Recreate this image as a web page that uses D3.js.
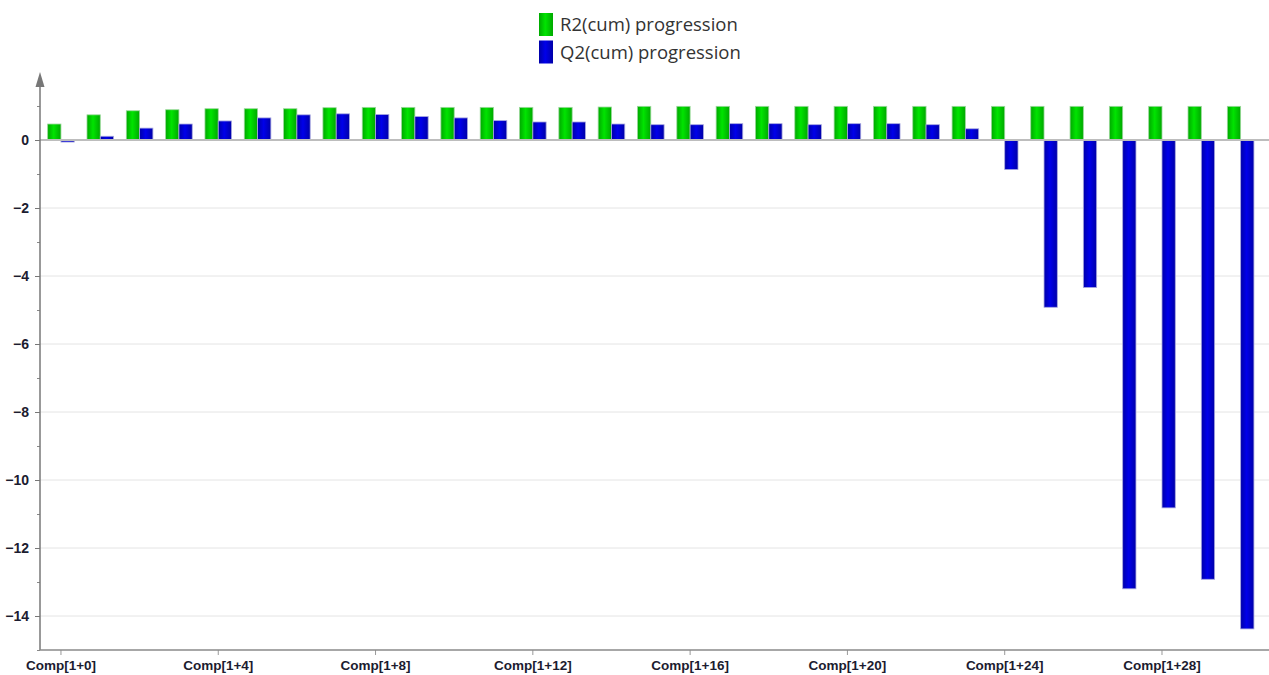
<!DOCTYPE html>
<html>
<head>
<meta charset="utf-8">
<script src="https://cdn.jsdelivr.net/npm/d3@7"></script>
<style>
  html, body { margin: 0; padding: 0; background: #fff; }
  svg { display: block; }
</style>
</head>
<body>
<svg id="chart" width="1269" height="675"></svg>
<script>
// ---- Data ----
const categories = d3.range(0, 31).map(i => `Comp[1+${i}]`);
const r2cum = [0.47, 0.74, 0.86, 0.89, 0.92, 0.92, 0.92, 0.95, 0.96, 0.96, 0.96, 0.96, 0.96, 0.96, 0.97, 0.99,
               0.99, 0.99, 0.99, 0.99, 0.99, 0.99, 0.99, 0.99, 0.99, 0.99, 0.99, 0.99, 0.99, 0.99, 0.99];
const q2cum = [-0.06, 0.11, 0.35, 0.47, 0.56, 0.65, 0.74, 0.77, 0.75, 0.69, 0.65, 0.57, 0.53, 0.53, 0.47, 0.45,
               0.45, 0.48, 0.48, 0.45, 0.48, 0.48, 0.45, 0.33, -0.87, -4.92, -4.34, -13.2, -10.82, -12.92, -14.38];
const seriesNames = ["R2(cum) progression", "Q2(cum) progression"];
const yTickValues = [-14, -12, -10, -8, -6, -4, -2, 0];
const yMinorTicks = [-15, -13, -11, -9, -7, -5, -3, -1, 1];
const xLabelEvery = 4;

// ---- Layout ----
const svg = d3.select("#chart");
const W = 1269, H = 675;
const axisX = 40, axisBottom = 650, axisTop = 72;

const x = d3.scaleBand().domain(categories).range([41.3, 1260.3]).paddingInner(0).paddingOuter(0);
const inner = d3.scaleBand().domain([0, 1]).range([0, 26.6]);
const y = d3.scaleLinear().domain([-15, 2]).range([axisBottom, axisTop]);

// gradients
const defs = svg.append("defs");
function grad(id, edge, mid) {
  const g = defs.append("linearGradient").attr("id", id).attr("x1", "0%").attr("x2", "100%").attr("y1", "0%").attr("y2", "0%");
  g.append("stop").attr("offset", "0%").attr("stop-color", edge);
  g.append("stop").attr("offset", "45%").attr("stop-color", mid);
  g.append("stop").attr("offset", "100%").attr("stop-color", edge);
}
grad("gGreen", "#00a800", "#00e400");
grad("gBlue", "#0000a8", "#0000ea");

// gridlines
svg.append("g").selectAll("line").data(yTickValues.filter(v => v !== 0)).join("line")
  .attr("x1", axisX).attr("x2", W)
  .attr("y1", d => y(d)).attr("y2", d => y(d))
  .attr("stroke", "#e4e4e4").attr("stroke-width", 1);

// bars
const centerOf = c => x(c) + x.bandwidth() / 2;
const groupStart = c => centerOf(c) - inner.range()[1] / 2;
const seriesData = [r2cum, q2cum];
const fills = ["url(#gGreen)", "url(#gBlue)"];
const strokes = ["#9ad89a", "#a8a8e0"];
seriesData.forEach((vals, si) => {
  svg.append("g").selectAll("rect").data(categories).join("rect")
    .attr("x", (c) => groupStart(c) + inner(si))
    .attr("width", inner.bandwidth())
    .attr("y", (c, i) => y(Math.max(0, vals[i])))
    .attr("height", (c, i) => Math.abs(y(vals[i]) - y(0)))
    .attr("fill", fills[si])
    .attr("stroke", strokes[si]).attr("stroke-width", 0.8);
});

// zero line
svg.append("line").attr("x1", axisX).attr("x2", W)
  .attr("y1", y(0)).attr("y2", y(0))
  .attr("stroke", "#bdbdbd").attr("stroke-width", 2);

// y axis
const yAxis = d3.axisLeft(y).tickValues(yTickValues).tickSize(5).tickPadding(6).tickFormat(d3.format("d"));
const yg = svg.append("g").attr("transform", `translate(${axisX},0)`).call(yAxis);
yg.select(".domain").remove();
yg.selectAll(".tick line").attr("stroke", "#777");
yg.selectAll(".tick text").attr("font-family", "'Liberation Sans', Arial, sans-serif")
  .attr("font-size", 14).attr("font-weight", "bold").attr("fill", "#1c1c30");
const yMinor = d3.axisLeft(y).tickValues(yMinorTicks).tickSize(3).tickFormat("");
const ym = svg.append("g").attr("transform", `translate(${axisX},0)`).call(yMinor);
ym.select(".domain").remove();
ym.selectAll(".tick line").attr("stroke", "#888");

svg.append("line").attr("x1", axisX).attr("x2", axisX)
  .attr("y1", axisTop + 8).attr("y2", axisBottom)
  .attr("stroke", "#777").attr("stroke-width", 1.5);
svg.append("path")
  .attr("d", `M${axisX - 4.5},${axisTop + 15} L${axisX},${axisTop} L${axisX + 4.5},${axisTop + 15} Z`)
  .attr("fill", "#777");

// x axis
const xAxis = d3.axisBottom(x)
  .tickValues(categories.filter((c, i) => i % xLabelEvery === 0))
  .tickSize(5).tickPadding(5);
const xg = svg.append("g").attr("transform", `translate(0,${axisBottom})`).call(xAxis);
xg.select(".domain").remove();
xg.selectAll(".tick line").attr("stroke", "#999");
xg.selectAll(".tick text").attr("font-family", "'Liberation Sans', Arial, sans-serif")
  .attr("font-size", 13.5).attr("font-weight", "bold").attr("fill", "#1c1c30");
svg.append("line").attr("x1", axisX).attr("x2", W)
  .attr("y1", axisBottom).attr("y2", axisBottom)
  .attr("stroke", "#8a8a8a").attr("stroke-width", 1.5);

// legend
const legend = svg.append("g").attr("transform", "translate(539,13)");
const legSw = ["url(#gGreen)", "url(#gBlue)"];
seriesNames.forEach((name, i) => {
  const g = legend.append("g").attr("transform", `translate(0,${i * 27.5})`);
  g.append("rect").attr("width", 14).attr("height", 23).attr("fill", legSw[i]);
  g.append("text").attr("x", 21).attr("y", 18)
    .attr("font-family", "'Open Sans', 'Noto Sans', sans-serif")
    .attr("font-size", 18.5).attr("fill", "#333").text(name);
});
</script>
</body>
</html>
